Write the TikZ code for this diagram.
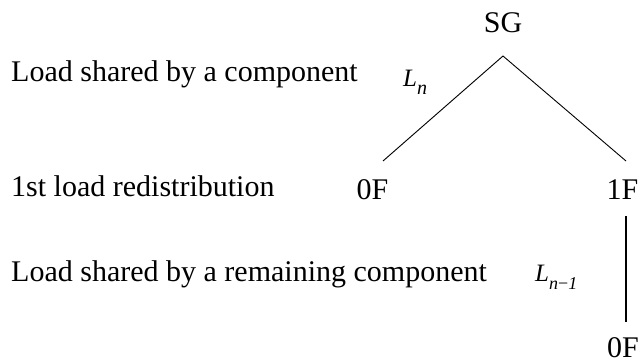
\documentclass[tikz,border=0pt]{standalone}
\usepackage{fontspec}
\setmainfont{Liberation Serif}
\begin{document}
\begin{tikzpicture}[x=1pt,y=1pt,
  lbl/.style={font=\fontsize{30}{36}\selectfont, inner sep=0pt},
  lsym/.style={font=\fontsize{25}{30}\selectfont\itshape, inner sep=0pt},
  thinln/.style={line width=0.9pt},
  thickln/.style={line width=1.8pt}]
\useasboundingbox (0,0) rectangle (641,362);
% left labels
\node[lbl, anchor=base west] (t1) at (11,280) {Load shared by a component};
\node[lbl, anchor=base west] (t2) at (11,165) {1st load redistribution};
\node[lbl, anchor=base west] (t3) at (11,80) {Load shared by a remaining component};
% tree nodes
\node[lbl, anchor=base] (sg) at (503,329) {SG};
\node[lbl, anchor=base] (f0) at (372.5,162) {0F};
\node[lbl, anchor=base] (f1) at (622.5,162) {1F};
\node[lbl, anchor=base] (f0b) at (623,4) {0F};
% load symbols
\node[lsym, anchor=base west] (ln) at (403,275) {L\raisebox{-0.3em}{\fontsize{20}{24}\selectfont n}};
\node[lsym, anchor=base west] (ln1) at (535,80) {L\raisebox{-0.3em}{\fontsize{18}{22}\selectfont n\textup{−}1}};
% connector ends
\coordinate (apex) at (503,306);
\coordinate (lend) at (383,201);
\coordinate (rend) at (626,201);
\coordinate (vtop) at (626,146);
\coordinate (vbot) at (626,40);
\draw[thinln] (lend) -- (apex) -- (rend);
\draw[thickln] (vtop) -- (vbot);
\end{tikzpicture}
\end{document}
